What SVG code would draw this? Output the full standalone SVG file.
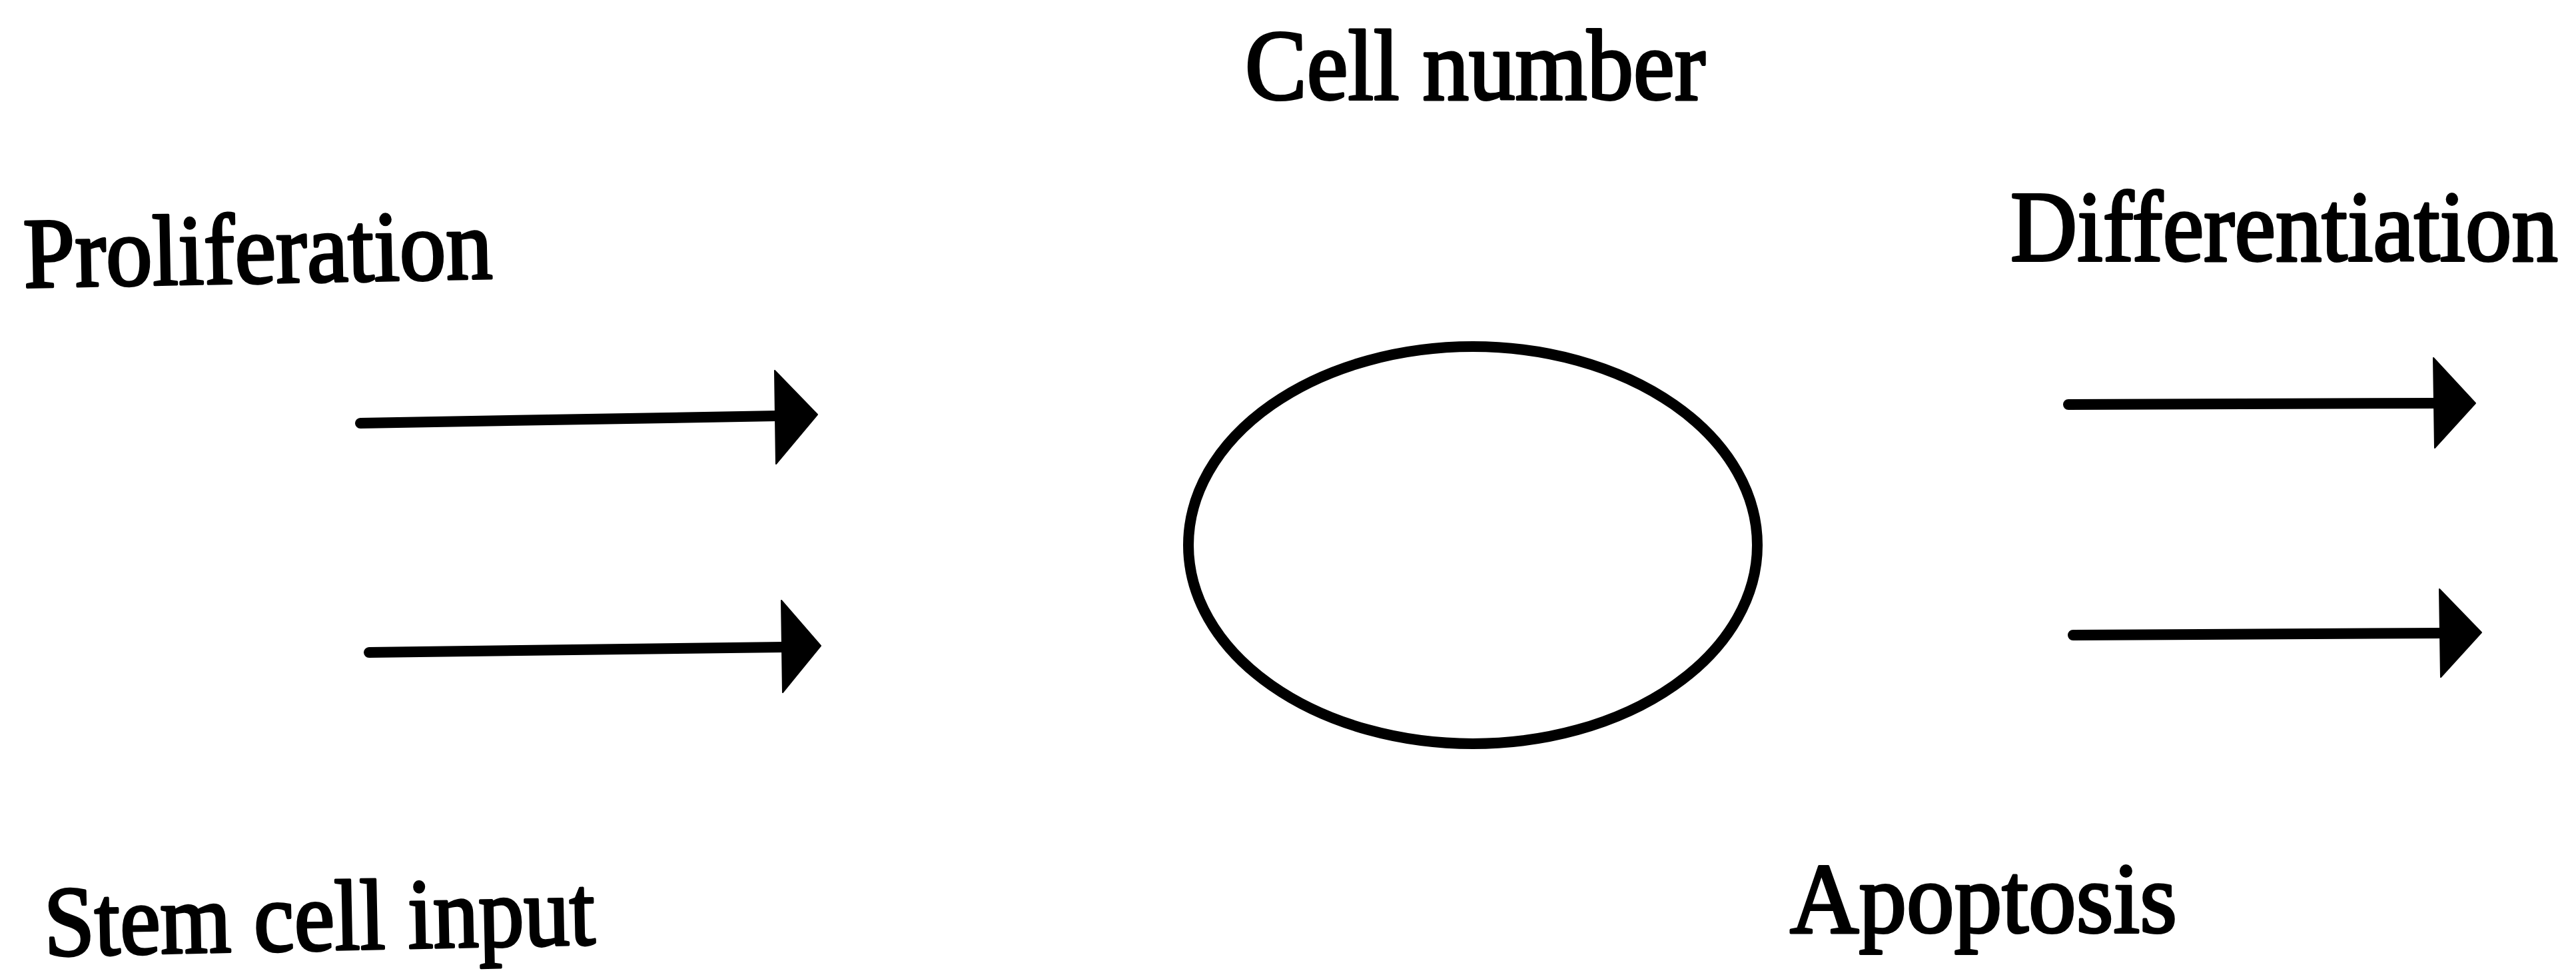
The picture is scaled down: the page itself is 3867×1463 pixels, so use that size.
<svg xmlns="http://www.w3.org/2000/svg" width="3867" height="1463" viewBox="0 0 3867 1463">
  <style>
    .lbl { font-family: "Liberation Serif", "Times New Roman", serif; font-size: 150px; fill: #000; stroke: #000; stroke-width: 4px; stroke-linejoin: round; }
    .shaft { stroke: #000; stroke-width: 16; stroke-linecap: round; fill: none; }
    .head { fill: #000; stroke: #000; stroke-width: 2; stroke-linejoin: round; }
    .cell { fill: none; stroke: #000; stroke-width: 16; }
  </style>
  <rect width="3867" height="1463" fill="#fff"/>

  <g id="label-cell-number">
    <text class="lbl" x="1869" y="149" textLength="691" lengthAdjust="spacingAndGlyphs">Cell number</text>
  </g>
  <g id="label-proliferation">
    <text class="lbl" x="36" y="431" textLength="704" lengthAdjust="spacingAndGlyphs" transform="rotate(-1.1 36 431)">Proliferation</text>
  </g>
  <g id="label-differentiation">
    <text class="lbl" x="0" y="0" transform="translate(3018 391) scale(0.925 1)">Differentiation</text>
  </g>
  <g id="label-stem-cell-input">
    <text class="lbl" x="67" y="1434" textLength="827" lengthAdjust="spacingAndGlyphs" transform="rotate(-1.2 67 1434)">Stem cell input</text>
  </g>
  <g id="label-apoptosis">
    <text class="lbl" x="2687" y="1399" textLength="581" lengthAdjust="spacingAndGlyphs">Apoptosis</text>
  </g>

  <g id="cell-pool">
    <ellipse class="cell" cx="2211" cy="818" rx="427" ry="298"/>
  </g>

  <g id="connectors">
    <g id="arrow-proliferation">
      <line class="shaft" x1="541" y1="635" x2="1168" y2="624"/>
      <polygon class="head" points="1163,556 1227,622 1165,696"/>
    </g>
    <g id="arrow-stem-cell-input">
      <line class="shaft" x1="554" y1="979" x2="1176" y2="971"/>
      <polygon class="head" points="1173,901 1232,969 1175,1039"/>
    </g>
    <g id="arrow-differentiation">
      <line class="shaft" x1="3105" y1="607" x2="3656" y2="605"/>
      <polygon class="head" points="3653,537 3716,605 3655,672"/>
    </g>
    <g id="arrow-apoptosis">
      <line class="shaft" x1="3112" y1="953" x2="3665" y2="950"/>
      <polygon class="head" points="3662,884 3725,949 3664,1016"/>
    </g>
  </g>
</svg>
